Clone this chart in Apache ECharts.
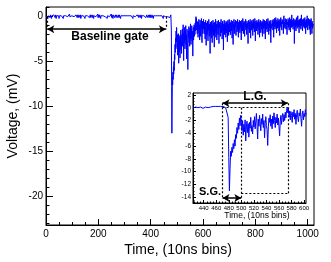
<!DOCTYPE html>
<html>
<head>
<meta charset="utf-8">
<script src="https://cdn.jsdelivr.net/npm/echarts@6/dist/echarts.min.js"></script>
<style>
html,body{margin:0;padding:0;background:#fff;}
#c{width:331px;height:262px;}
</style>
</head>
<body>
<div id="c"></div>
<script>
// ---- Data (voltage in mV per 10 ns bin) ----
const baselineStart = 0;
const baseline = [
.1,0,.2,-.1,.1,.2,0,-.2,.1,.3,0,.1,-.1,.2,.1,0,-.1,.2,.3,.1,
0,-.2,.1,.2,-.1,0,.1,.2,.1,-.1,.2,0,.1,.3,.1,-.1,0,.2,.1,-.2,
.1,.2,0,.1,-.1,.2,.3,0,.1,-.1,-.2,.1,0,.2,.1,.1,-.1,.2,0,.1,
.2,-.1,.1,0,.2,.1,-.2,.1,.3,.1,0,-.1,.1,.2,0,.1,.2,-.1,0,.1,
-.1,.1,.2,0,.1,-.2,0,.2,.1,.1,.3,0,-.1,.1,.2,.1,0,-.1,.2,.1,
.1,0,-.1,.2,.1,.3,.1,0,-.2,.1,.2,0,.1,-.1,.1,.2,.1,0,.2,-.1,
0,.2,.1,-.1,.1,0,.2,.3,0,.1,-.1,.1,.2,-.2,0,.1,.2,.1,-.1,.1,
.2,.1,0,.1,-.1,.2,0,.1,.1,-.2,.1,.3,.2,0,-.1,.1,0,.2,.1,0,
-.1,.1,.2,.1,0,.2,-.1,0,.1,.2,.1,-.1,.2,.1,0,.3,.1,-.1,.1,.2,
0,.1,-.2,.1,.2,0,.1,-.1,.2,.1,.1,0,.2,-.1,.1,.2,0,.1,.3,-.1,
.1,.2,0,-.1,.1,.2,.1,0,.2,-.2,.1,.1,0,.2,.1,-.1,.2,0,.1,.1,
.2,0,.1,.3,-.1,.1,0,.2,.1,-.1,0,.2,.1,.1,-.2,.1,.2,0,.1,.2,
-.1,.1,.2,0,.1,.2,-.1,.1,0,.3,.1,-.1,.2,.1,0,.1,-.2,.2,.1,0,
.1,.2,-.1,.1,0,.2,.1,.1,-.1,.2,0,.1,.3,0,-.1,.1,.2,.1,0,-.1,
.2,.1,0,.1,.2,-.2,.1,.1,0,.2,.1,-.1,0,.2,.1,.3,0,.1,-.1,.1,
0,.2,.1,-.1,.1,.2,0,.1,.2,-.1,.1,0,.2,.1,-.1,.2,.1,0,.1,.2,
.1,-.1,.2,.1,0,.3,.1,-.1,.1,.2,0,.1,-.2,.1,.2,.1,0,.2,-.1,.1,
.2,0,.1,-.1,.2,.1,.1,0,-.1,.2,.3,.1,0,.1,-.1,.2,.1,0,.2,.1,
-.1,.1,0,.2,.1,-.2,.1,.2,0,.1,.1,-.1,.2,0,.1,.2,.1,-.1,0,.2,
.1,.2,-.1,0,.1,.2,.1,0,.3,-.1,.1,.1,0,.2,-.1,.1,.2,0,.1,-.1,
.2,.1,0,.1,-.1,.2,0,.1,.2,.1,-.2,.1,0,.2,.1,.3,-.1,.1,0,.1,
0,.1,.2,-.1,.1,0,.2,.1,-.1,.1,.2,0,.1,-.1,.2,.1,0,.2,.1,-.1,
.1,.2,0,.1,-.1,.1,.2,0,-.2,.1,.2,.1,0,.1,-.1,.2,.1,0,.1,.2,
.1,0,-.1,.2,.1,0,.1,.2,-.1,.1,0,.2,.1,-.1,.1,0,.1,.2
];
const pulseStart = 478;
const pulse = [
.1,-1.5,-7.8,-13.0,-9.5,-6.8,-7.6,-6.2,-7.0,-5.6,-6.4,-5.0,-6.0,-4.2,-4.8,-3.1,-4.0,-2.4,-3.4,-1.6,
-2.8,-1.2,-2.2,-3.6,-2.0,-4.3,-2.6,-3.8,-1.9,-5.2,-3.0,-2.1,-3.9,-2.5,-4.6,-2.3,-3.2,-1.5,-3.7,-2.8,
-4.1,-2.0,-3.0,-1.4,-3.3,-2.2,-.9,-2.7,-4.9,-1.8,-2.9,-1.2,-2.4,-3.6,-1.7,-2.6,-1.0,-3.1,-2.0,-4.7,
-2.5,-1.4,-2.8,-3.4,-5.9,-3.0,-1.6,-2.3,-1.1,-2.9,-1.8,-3.3,-1.3,-2.5,-.8,-2.0,-3.1,-1.5,-2.4,-1.0,
-2.7,-1.6,-3.0,-4.4,-2.1,-1.2,-2.6,-1.4,-.9,-2.2,-1.1,-2.0,-.7,-1.6,-.4,0,-.8,-.2,-1.5,-.5,
-1.9,-.6,-1.2,-2.3,-.7,-1.4,-.3,-1.8,-.9,-2.6,-1.1,-.4,-1.6,-2.2,-.8,-1.3,-.2,-1.7,-2.9,-1.0,
-.5,-1.9,-.9,-1.4,-.3,-1.2
];
const tailStart = 604;
const tail = [
-.8,-1.9,-.6,-1.3,-2.5,-1.0,-.4,-1.7,-3.2,-1.1,-.7,-2.0,-1.4,-.5,-1.8,-2.7,-.9,-1.5,-.3,-1.2,
-2.2,-.8,-1.6,-4.1,-1.3,-.6,-1.9,-1.0,-2.4,-.5,-1.4,-2.9,-.9,-1.7,-.4,-1.2,-2.1,-.7,-1.5,-3.4,
-1.0,-.6,-1.8,-1.2,-.3,-2.3,-1.1,-.8,-1.6,-2.6,-.5,-1.3,-.9,-2.0,-1.4,-.4,-1.7,-3.0,-.8,-1.2,
-.6,-1.5,-2.2,-.9,-1.1,-.3,-1.8,-1.3,-.7,-2.5,-1.0,-.5,-1.6,-1.2,-3.7,-.8,-1.4,-.4,-2.0,-1.1,
-.7,-1.6,-.9,-2.3,-.5,-1.2,-1.8,-.6,-1.0,-2.8,-1.3,-.4,-1.5,-.8,-2.1,-1.0,-.3,-1.7,-1.2,-.6,
-1.4,-2.0,-.7,-1.1,-.4,-1.6,-.9,-2.4,-1.0,-.5,-1.3,-3.1,-.8,-1.2,-.3,-1.5,-.9,-1.9,-.6,-1.1,
-.4,-1.3,-2.1,-.8,-1.0,-.5,-1.7,-1.2,-.3,-1.4,-.9,-2.3,-.6,-1.1,-1.5,-.4,-.9,-1.8,-1.0,-.5,
-1.2,-.7,-2.6,-1.0,-.4,-1.3,-.8,-1.6,-.2,-1.1,-1.9,-.7,-1.0,-.5,-1.4,-2.2,-.6,-.9,-1.2,-.3,
-1.5,-.8,-1.0,-2.0,-.5,-1.2,-.7,-1.6,-3.0,-.9,-.4,-1.1,-1.4,-.6,-1.8,-.9,-.3,-1.2,-2.4,-.8,
-.5,-1.0,-1.5,-.4,-1.2,-.7,-2.1,-.9,-.3,-1.3,-1.0,-.6,-1.7,-.8,-.2,-1.4,-2.7,-.9,-.5,-1.1,
-.7,-1.6,-.4,-1.0,-1.3,-.6,-2.0,-.8,-1.1,-.3,-1.5,-.9,-2.3,-.6,-1.0,-.4,-1.2,-1.8,-.7,-.9,
-1.4,-.5,-.9,-2.2,-.6,-1.1,-.3,-1.3,-.8,-1.9,-1.0,-.4,-1.2,-.7,-2.5,-.9,-.5,-1.4,-1.0,-.3,
-1.1,-1.7,-.6,-.9,-.2,-1.3,-.8,-2.0,-1.0,-.5,-1.2,-.7,-1.6,-.4,-1.0,-2.9,-.8,-.6,-1.3,-.9,
-.4,-1.0,-.7,-1.5,-.3,-.9,-2.3,-.6,-1.1,-.2,-.8,-1.4,-.5,-1.0,-.1,-1.2,-.7,-1.8,-.4,-.9,
-.6,-1.3,-.2,-.8,-1.1,-.5,-1.6,-.3,-.9,-2.1,-.7,-.4,-1.0,-.1,-1.2,-.6,-.9,-1.5,-.3,-.8,
-1.0,-.4,-.7,-1.9,-.5,.1,-1.1,-.6,-.9,-1.3,-.2,-.8,-.5,-1.4,-.7,-.3,-1.0,-2.0,-.6,-.4,
-.9,-.2,-1.2,-.7,-.4,-1.5,-.8,-.1,-1.0,-.6,-1.7,-.3,-.9,-.5,-1.2,.2,-.7,-1.1,-.4,-.8,
-1.4,-.5,-.2,-1.0,-.6,-3.0,-.9,-.3,-1.2,-.7,-.4,-1.6,-.8,-.1,-1.0,-.5,-1.3,-.6,.1,-.9,
-.4,-1.1,-.7,-1.8,-.3,-.9,-.5,-1.2,-.2,-.8,-1.4,-.6,.2,-1.0,-.4,-.7,-1.6,-.3,-.9,-.5,
-1.1,-.2,-.8,-1.3,-.5,-.1,-1.0,-.6,-1.9,-.4,-.8,-.3,-1.2,-.6,.1,-.9,-1.5,-.4,-.7,-.2,
-1.0,-.5,-1.4,-.3,-.8,-.6,-2.0,-.4,-.9,-.2,-1.1,-.7,-1.9,-.5,-.3,-1.3,-.8,-.6,-1.0,-.9
];

// gates (bins) and annotation levels (mV)
const baselineGate = [5, 458];
const baselineArrowY = -1.4;
const shortGate = [470, 500];
const longGate = [470, 574];
const longArrowY = 0.7;
const shortArrowY = -14.1;
const boxBottomY = -13.4;

// tick labels
const mainXTicks = [0, 200, 400, 600, 800, 1000];
const mainYTicks = [-20, -15, -10, -5, 0];
const insetXTicks = [440, 460, 480, 500, 520, 540, 560, 580, 600];
const insetYTicks = [-14, -12, -10, -8, -6, -4, -2, 0, 2];

// ---- build ----
function pairs(arr, start) { return arr.map((v, i) => [start + i, v]); }
const wave = pairs(baseline, baselineStart).concat(pairs(pulse, pulseStart), pairs(tail, tailStart));
const insetRange = [423, 603];
const insetWave = wave.filter(p => p[0] >= insetRange[0] && p[0] <= insetRange[1]);

function range(a, b, s) { const r = []; for (let v = a; v <= b + 1e-9; v += s) r.push(Math.round(v * 100) / 100); return r; }

const FONT = "'Liberation Sans', Arial, Helvetica, sans-serif";
const fmt = v => String(v);

function majorAxis(grid, min, max, ticks, len, fs, margin, pos) {
  return {
    gridIndex: grid, type: 'value', min: min, max: max, position: pos,
    axisLine: { show: true, onZero: false, lineStyle: { color: '#000', width: 1 } },
    axisTick: { show: true, inside: true, length: len, customValues: ticks, lineStyle: { color: '#000', width: 1 } },
    axisLabel: { show: true, customValues: ticks, formatter: fmt, fontSize: fs, color: '#000', margin: margin, fontFamily: FONT, hideOverlap: false },
    splitLine: { show: false }
  };
}
function minorAxis(grid, min, max, ticks, len, pos) {
  return {
    gridIndex: grid, type: 'value', min: min, max: max, position: pos,
    axisLine: { show: false, onZero: false },
    axisTick: { show: true, inside: true, length: len, customValues: ticks, lineStyle: { color: '#000', width: 1 } },
    axisLabel: { show: false },
    splitLine: { show: false }
  };
}

const mainX = [0, 1024], mainY = [-23.25, 1.08];
const insX = insetRange, insY = [-14.9, 2.3];

function arrowLine(x0, x1, y) {
  return [
    { coord: [x0, y], symbol: 'arrow', symbolSize: [6, 7], lineStyle: { color: '#000', width: 1.5, type: 'solid' } },
    { coord: [x1, y], symbol: 'arrow', symbolSize: [6, 7] }
  ];
}
function dotLine(x0, y0, x1, y1) {
  return [
    { coord: [x0, y0], symbol: 'none', lineStyle: { color: '#000', width: 1.2, type: [2, 2] } },
    { coord: [x1, y1], symbol: 'none' }
  ];
}

const option = {
  animation: false,
  backgroundColor: '#fff',
  grid: [
    { left: 46, top: 7, width: 268, height: 218, show: true, borderColor: '#000', borderWidth: 1, backgroundColor: 'transparent' },
    { left: 193, top: 93, width: 113, height: 110, show: true, borderColor: '#000', borderWidth: 1, backgroundColor: '#fff' }
  ],
  xAxis: [
    majorAxis(0, mainX[0], mainX[1], mainXTicks, 6, 10, 4, 'bottom'),
    minorAxis(0, mainX[0], mainX[1], range(50, 1000, 50), 3, 'bottom'),
    majorAxis(1, insX[0], insX[1], insetXTicks, 3, 6, 2, 'bottom'),
    minorAxis(1, insX[0], insX[1], range(425, 600, 5), 1.5, 'bottom')
  ],
  yAxis: [
    majorAxis(0, mainY[0], mainY[1], mainYTicks, 7, 10, 3, 'left'),
    minorAxis(0, mainY[0], mainY[1], range(-23, 1, 1), 3.5, 'left'),
    majorAxis(1, insY[0], insY[1], insetYTicks, 3, 6.5, 2, 'left'),
    minorAxis(1, insY[0], insY[1], range(-14.5, 2, 0.5), 1.5, 'left')
  ],
  series: [
    {
      type: 'line', xAxisIndex: 0, yAxisIndex: 0, data: wave,
      showSymbol: false, symbol: 'none', lineStyle: { color: '#0000ff', width: 1 }, itemStyle: { color: '#0000ff' },
      z: 3,
      markLine: {
        silent: true, animation: false, label: { show: false }, emphasis: { disabled: true },
        data: [
          arrowLine(baselineGate[0], baselineGate[1], baselineArrowY),
          dotLine(baselineGate[0], 0, baselineGate[0], baselineArrowY),
          dotLine(baselineGate[1], 0, baselineGate[1], baselineArrowY)
        ]
      }
    },
    {
      type: 'line', xAxisIndex: 2, yAxisIndex: 2, data: insetWave,
      showSymbol: false, symbol: 'none', lineStyle: { color: '#0000ff', width: 1 }, itemStyle: { color: '#0000ff' },
      z: 5,
      markLine: {
        silent: true, animation: false, label: { show: false }, emphasis: { disabled: true },
        data: [
          arrowLine(longGate[0], longGate[1], longArrowY),
          arrowLine(shortGate[0], shortGate[1], shortArrowY),
          dotLine(longGate[0], longArrowY, longGate[0], shortArrowY),
          dotLine(longGate[0], 0, longGate[1], 0),
          dotLine(longGate[1], longArrowY, longGate[1], boxBottomY),
          dotLine(shortGate[1], boxBottomY, longGate[1], boxBottomY),
          dotLine(shortGate[1], 0, shortGate[1], shortArrowY)
        ]
      }
    }
  ],
  graphic: [
    { type: 'text', x: 110, y: 37, z: 10, style: { text: 'Baseline gate', fill: '#000', font: 'bold 12px ' + FONT, textAlign: 'center', textVerticalAlign: 'middle' } },
    { type: 'text', x: 255, y: 97, z: 10, style: { text: 'L.G.', fill: '#000', font: 'bold 12px ' + FONT, textAlign: 'center', textVerticalAlign: 'middle' } },
    { type: 'text', x: 210, y: 192, z: 10, style: { text: 'S.G.', fill: '#000', font: 'bold 11px ' + FONT, textAlign: 'center', textVerticalAlign: 'middle' } },
    { type: 'text', x: 257, y: 216, z: 10, style: { text: 'Time, (10ns bins)', fill: '#000', font: '8.5px ' + FONT, textAlign: 'center', textVerticalAlign: 'middle' } },
    { type: 'text', x: 178, y: 250, z: 10, style: { text: 'Time, (10ns bins)', fill: '#000', font: '14px ' + FONT, textAlign: 'center', textVerticalAlign: 'middle' } },
    { type: 'text', x: 13, y: 116, rotation: Math.PI / 2, z: 10, style: { text: 'Voltage, (mV)', fill: '#000', font: '14px ' + FONT, textAlign: 'center', textVerticalAlign: 'middle' } }
  ]
};

const chart = echarts.init(document.getElementById('c'), null, { renderer: 'canvas' });
chart.setOption(option);
</script>
</body>
</html>
